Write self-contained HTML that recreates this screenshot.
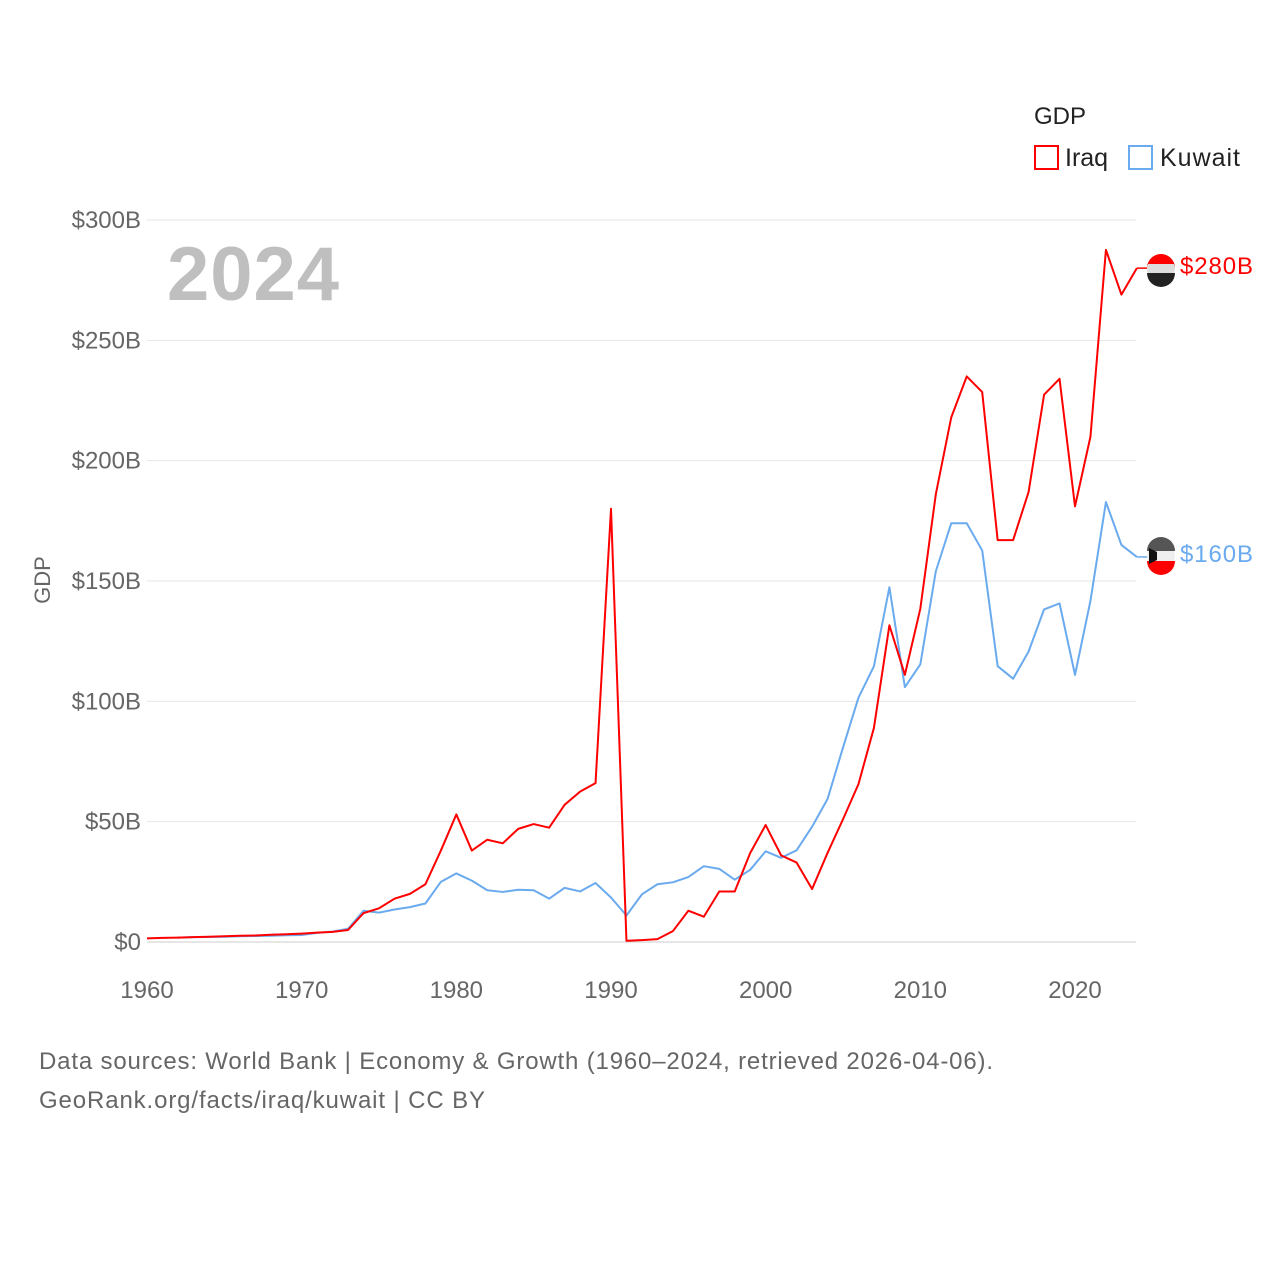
<!DOCTYPE html>
<html><head><meta charset="utf-8"><style>
body{margin:0;background:#fff;}
svg text{font-family:"Liberation Sans",sans-serif;}
</style></head><body>
<svg id="chart" width="1280" height="1280" xmlns="http://www.w3.org/2000/svg">
<text x="1034" y="124" font-size="24" fill="#222">GDP</text>
<g><rect x="1035" y="146" width="23" height="23" fill="none" stroke="#f00" stroke-width="2"/><text x="1065" y="166" font-size="25" fill="#222">Iraq</text></g>
<g><rect x="1129" y="146" width="23" height="23" fill="none" stroke="#6aaaee" stroke-width="2"/><text x="1160" y="166" font-size="25" fill="#222" textLength="80">Kuwait</text></g>
<text x="167" y="300" font-size="76" font-weight="bold" fill="#bfbfbf" textLength="172">2024</text>
<text transform="translate(50,580) rotate(-90)" text-anchor="middle" font-size="22" fill="#666">GDP</text>
<g id="grid"></g><g id="series"></g>
<g><circle cx="1161" cy="268" r="14" fill="#ddd"/><path d="M1147 268 a14 14 0 0 1 28 0 v-4 h-28z" fill="#f00"/><path d="M1147 273 h28 a14 14 0 0 1 -28 0z" fill="#222"/></g>
<g><circle cx="1161" cy="556" r="14" fill="#eee"/><path d="M1147 551 a14 14 0 0 1 28 0z" fill="#555"/><path d="M1147 561 h28 a14 14 0 0 1 -28 0z" fill="#f00"/><path d="M1149 548 l8 4 v8 l-8 4z" fill="#111"/></g>
<text x="1180" y="274" font-size="24" fill="#f00" textLength="73">$280B</text>
<text x="1180" y="562" font-size="24" fill="#6aaaee" textLength="73">$160B</text>
<text x="39" y="1069" font-size="24" fill="#666" textLength="954">Data sources: World Bank | Economy &amp; Growth (1960–2024, retrieved 2026-04-06).</text>
<text x="39" y="1108" font-size="24" fill="#666" textLength="446">GeoRank.org/facts/iraq/kuwait | CC BY</text>
</svg>
<script>
const yTicks=[0,50,100,150,200,250,300];
const yTickLabels=["$0","$50B","$100B","$150B","$200B","$250B","$300B"];
const xTicks=[1960,1970,1980,1990,2000,2010,2020];
const iraqStart=1960;
const iraqValues=[1.5,1.7,1.8,2,2.2,2.4,2.6,2.7,3,3.2,3.5,3.9,4.2,5,12,14,18,20,24,38,53,38,42.5,41,47,49,47.5,57,62.5,66,180,0.5,0.8,1.2,4.5,13,10.5,21,21,37,48.6,36,33,22,37,51,65.6,89,131.6,111,138.5,186,218,235,228.5,167,167,187,227.4,234,181,210,287.6,269,280];
const kuwaitStart=1962;
const kuwaitValues=[1.8,2,2.1,2.2,2.4,2.5,2.6,2.8,2.9,3.8,4.3,5.5,13,12.2,13.5,14.5,16,25,28.5,25.5,21.5,20.8,21.7,21.5,18,22.5,21,24.5,18.5,11,19.8,24,24.8,27,31.5,30.4,25.9,30,37.7,35,38.1,47.9,59.4,80.8,101.5,114.6,147.4,105.9,115.4,154,174,174,162.7,114.6,109.4,120.7,138.2,140.7,111,141.8,182.8,165,160];
const X=y=>147+(y-1960)*(1075-147)/60;
const Y=v=>942-v*(942-220)/300;
const NS="http://www.w3.org/2000/svg";
const grid=document.getElementById('grid'),ser=document.getElementById('series');
yTicks.forEach((t,i)=>{
 const l=document.createElementNS(NS,'line');
 l.setAttribute('x1',147);l.setAttribute('x2',1136);l.setAttribute('y1',Y(t));l.setAttribute('y2',Y(t));
 l.setAttribute('stroke',i==0?'#ccc':'#e6e6e6');
 
 
 grid.appendChild(l);
 const tx=document.createElementNS(NS,'text');
 tx.setAttribute('x',141);tx.setAttribute('y',Y(t)+8);tx.setAttribute('text-anchor','end');tx.setAttribute('font-size','24');tx.setAttribute('fill','#666');
 tx.textContent=yTickLabels[i];
 
 
 grid.appendChild(tx);
});
xTicks.forEach(t=>{
 const tx=document.createElementNS(NS,'text');
 tx.setAttribute('x',X(t));tx.setAttribute('y',998);tx.setAttribute('text-anchor','middle');tx.setAttribute('font-size','24');tx.setAttribute('fill','#666');
 tx.textContent=t;
 
 
 grid.appendChild(tx);
});
function line(vals,start,color,name){
 const p=document.createElementNS(NS,'polyline');
 p.setAttribute('points',vals.map((v,i)=>X(start+i)+','+Y(v)).join(' '));
 p.setAttribute('fill','none');p.setAttribute('stroke',color);p.setAttribute('stroke-width','2');p.setAttribute('stroke-linejoin','round');
 
 
 ser.appendChild(p);
 const last=vals.length-1;
 const c=document.createElementNS(NS,'line');
 c.setAttribute('x1',X(start+last));c.setAttribute('y1',Y(vals[last]));c.setAttribute('x2',1147);c.setAttribute('y2',Y(vals[last]));
 c.setAttribute('stroke',color);c.setAttribute('stroke-width','1.5');
 
 
 ser.appendChild(c);
}
line(kuwaitValues,kuwaitStart,'#6aaaee','kuwait-line');
line(iraqValues,iraqStart,'#f00','iraq-line');
</script>
</body></html>
